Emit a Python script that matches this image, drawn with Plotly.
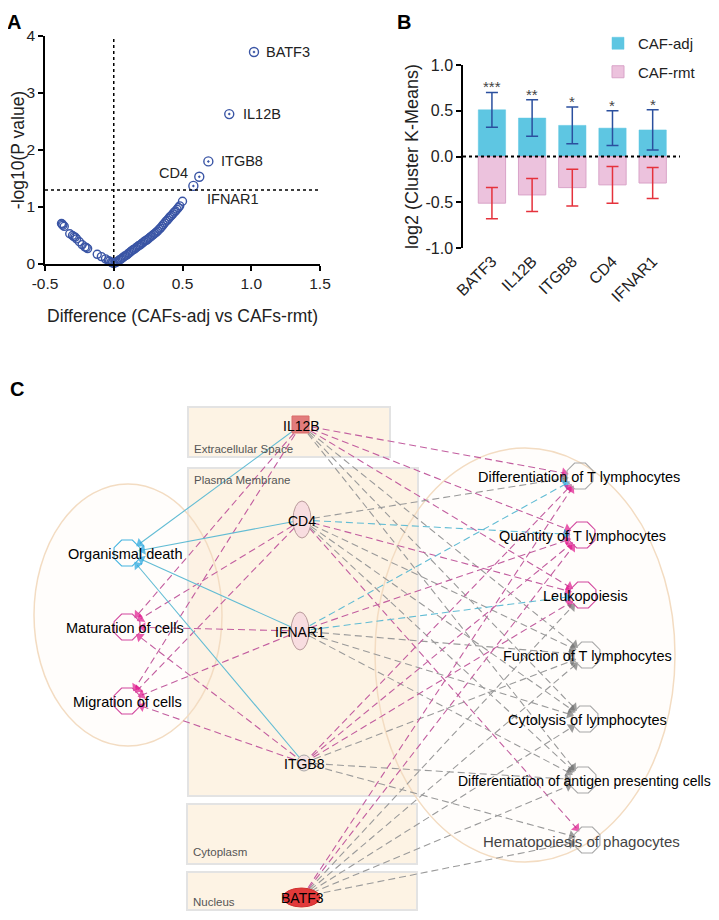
import math
import plotly.graph_objects as go

FONT = "Liberation Sans, Arial, sans-serif"

# ---------------- Panel A data (volcano) ----------------
volcano_diff = [-0.38, -0.375, -0.37, -0.36, -0.32, -0.30, -0.29, -0.28, -0.27, -0.25,
                -0.23, -0.21, -0.20, -0.19, -0.12, -0.09, -0.06, -0.04, -0.03, -0.02,
                -0.01, 0.00, 0.01, 0.02, 0.03, 0.04, 0.05, 0.06, 0.07, 0.08, 0.09,
                0.10, 0.11, 0.12, 0.13, 0.14, 0.15, 0.16, 0.17, 0.18, 0.19, 0.20,
                0.21, 0.22, 0.23, 0.24, 0.25, 0.26, 0.27, 0.28, 0.29, 0.30, 0.31,
                0.32, 0.33, 0.34, 0.35, 0.36, 0.37, 0.38, 0.39, 0.40, 0.41, 0.42,
                0.43, 0.44, 0.45, 0.46, 0.47, 0.48, 0.50]
volcano_logp = [0.71, 0.70, 0.68, 0.66, 0.53, 0.50, 0.48, 0.47, 0.44, 0.39,
                0.34, 0.30, 0.29, 0.27, 0.17, 0.13, 0.09, 0.06, 0.05, 0.03,
                0.02, 0.01, 0.02, 0.03, 0.05, 0.07, 0.08, 0.10, 0.12, 0.14, 0.15,
                0.17, 0.19, 0.21, 0.23, 0.25, 0.26, 0.28, 0.30, 0.32, 0.33, 0.35,
                0.37, 0.39, 0.41, 0.42, 0.44, 0.46, 0.48, 0.50, 0.52, 0.54, 0.56,
                0.58, 0.61, 0.63, 0.66, 0.69, 0.72, 0.75, 0.77, 0.80, 0.83, 0.85,
                0.88, 0.91, 0.93, 0.96, 0.99, 1.02, 1.10]
label_genes = ["BATF3", "IL12B", "ITGB8", "CD4", "IFNAR1"]
label_diff = [1.02, 0.84, 0.688, 0.622, 0.579]
label_logp = [3.72, 2.63, 1.80, 1.53, 1.37]
p_threshold = 1.3

# ---------------- Panel B data (bars) ----------------
genes_b = ["BATF3", "IL12B", "ITGB8", "CD4", "IFNAR1"]
caf_adj = [0.51, 0.42, 0.34, 0.31, 0.29]
caf_adj_err = [0.19, 0.20, 0.20, 0.19, 0.22]
caf_rmt = [-0.51, -0.42, -0.34, -0.31, -0.29]
caf_rmt_err = [0.17, 0.18, 0.20, 0.20, 0.17]
stars = ["***", "**", "*", "*", "*"]

# ---------------- Panel C data (network) ----------------
src_names = ["IL12B", "CD4", "IFNAR1", "ITGB8", "BATF3"]
src_x = [301, 302, 300, 304, 302]
src_y = [425, 520, 631, 763, 897]

fn_keys = ["OD", "MAT", "MIG", "DT", "QT", "LEU", "FT", "CYT", "DAPC", "HEM"]
fn_labels = ["Organismal death", "Maturation of cells", "Migration of cells",
             "Differentiation of T lymphocytes", "Quantity of T lymphocytes",
             "Leukopoiesis", "Function of T lymphocytes", "Cytolysis of lymphocytes",
             "Differentiation of antigen presenting cells", "Hematopoiesis of phagocytes"]
fn_x = [127, 127, 127, 580, 582, 583, 587, 585, 583, 587]
fn_y = [553, 627, 701, 476, 535, 595, 655, 719, 780, 840]
fn_label_x = [125, 125, 127, 579, 582, 585, 587, 587, 584, 581]
fn_kind = ["cyan", "mag", "mag", "grey", "mag", "mag", "grey", "grey", "grey", "grey"]

edges = [
    ("IL12B", "OD", "cyan", "solid"), ("IL12B", "MAT", "mag", "dash"),
    ("IL12B", "MIG", "mag", "dash"), ("IL12B", "DT", "mag", "dash"),
    ("IL12B", "QT", "mag", "dash"), ("IL12B", "LEU", "mag", "dash"),
    ("IL12B", "FT", "grey", "dash"), ("IL12B", "CYT", "grey", "dash"),
    ("IL12B", "DAPC", "grey", "dash"),
    ("CD4", "OD", "cyan", "solid"), ("CD4", "MAT", "mag", "dash"),
    ("CD4", "MIG", "mag", "dash"), ("CD4", "DT", "grey", "dash"),
    ("CD4", "QT", "cyan", "dash"), ("CD4", "LEU", "mag", "dash"),
    ("CD4", "FT", "grey", "dash"), ("CD4", "CYT", "grey", "dash"),
    ("CD4", "DAPC", "grey", "dash"), ("CD4", "HEM", "mag", "dash"),
    ("IFNAR1", "OD", "cyan", "solid"), ("IFNAR1", "MAT", "mag", "dash"),
    ("IFNAR1", "MIG", "mag", "dash"), ("IFNAR1", "DT", "cyan", "dash"),
    ("IFNAR1", "QT", "mag", "dash"), ("IFNAR1", "LEU", "cyan", "dash"),
    ("IFNAR1", "FT", "grey", "dash"), ("IFNAR1", "CYT", "grey", "dash"),
    ("IFNAR1", "DAPC", "grey", "dash"),
    ("ITGB8", "OD", "cyan", "solid"), ("ITGB8", "MAT", "mag", "dash"),
    ("ITGB8", "MIG", "mag", "dash"), ("ITGB8", "DT", "mag", "dash"),
    ("ITGB8", "QT", "mag", "dash"), ("ITGB8", "LEU", "mag", "dash"),
    ("ITGB8", "FT", "grey", "dash"), ("ITGB8", "DAPC", "grey", "dash"),
    ("ITGB8", "HEM", "grey", "dash"),
    ("BATF3", "DT", "mag", "dash"), ("BATF3", "QT", "mag", "dash"),
    ("BATF3", "LEU", "grey", "dash"), ("BATF3", "FT", "grey", "dash"),
    ("BATF3", "CYT", "grey", "dash"), ("BATF3", "DAPC", "grey", "dash"),
    ("BATF3", "HEM", "grey", "dash"),
]

compartments = ["Extracellular Space", "Plasma Membrane", "Cytoplasm", "Nucleus"]
comp_x0 = [188, 188, 187, 187]
comp_x1 = [390, 418, 417, 417]
comp_y0 = [407, 468, 804, 872]
comp_y1 = [457, 796, 864, 910]
comp_label_y = [449, 480, 852, 902]

line_col = {"mag": "#c25d9f", "grey": "#9a9a9a", "cyan": "#62bcd4"}
arrow_col = {"mag": "#e0158b", "grey": "#707070", "cyan": "#1fa2dd"}
oct_col = {"mag": "#d2479e", "grey": "#a8a8a8", "cyan": "#45b4e0"}

PAGE_W, PAGE_H = 719, 920
OFF = 8                      # default body margin of the html page
W, H = PAGE_W - 2 * OFF, PAGE_H - 2 * OFF   # figure fits in the window without overflow

fig = go.Figure()

# ---------- Panel A traces ----------
fig.add_trace(go.Scatter(
    x=volcano_diff, y=volcano_logp, mode="markers", xaxis="x", yaxis="y",
    marker=dict(symbol="circle-open", size=8, color="#3a55a5", line=dict(width=1.4)),
    showlegend=False, cliponaxis=False))
fig.add_trace(go.Scatter(
    x=label_diff, y=label_logp, mode="markers", xaxis="x", yaxis="y",
    marker=dict(symbol="circle-open-dot", size=9, color="#3a55a5", line=dict(width=1.4)),
    showlegend=False, cliponaxis=False))

# ---------- Panel B traces ----------
fig.add_trace(go.Bar(
    x=genes_b, y=caf_adj, name="CAF-adj", xaxis="x2", yaxis="y2", width=0.68,
    legendgroup="adj",
    marker=dict(color="#5ec6e2", line=dict(color="#5ec6e2", width=0.5)),
    error_y=dict(type="data", array=caf_adj_err, color="#2b4f9e", thickness=1.5, width=6)))
fig.add_trace(go.Bar(
    x=genes_b, y=caf_rmt, name="CAF-rmt", xaxis="x2", yaxis="y2", width=0.68,
    legendgroup="rmt",
    marker=dict(color="#ecc2dd", line=dict(color="#d9a3c8", width=1)),
    error_y=dict(type="data", array=caf_rmt_err, color="#e5323c", thickness=1.5, width=6)))

# ---------- Panel C traces ----------
src_pos = {n: (x, y) for n, x, y in zip(src_names, src_x, src_y)}
fn_pos = {k: (x, y) for k, x, y in zip(fn_keys, fn_x, fn_y)}
for s, t, kind, style in edges:
    sx, sy = src_pos[s]
    tx, ty = fn_pos[t]
    d = math.hypot(sx - tx, sy - ty)
    ex = tx + (sx - tx) / d * 16
    ey = ty + (sy - ty) / d * 16
    fig.add_trace(go.Scatter(
        x=[sx, ex], y=[sy, ey], xaxis="x3", yaxis="y3", mode="lines+markers",
        line=dict(color=line_col[kind], width=1.1,
                  dash=("solid" if style == "solid" else "7px,4px")),
        marker=dict(symbol=["circle", "triangle-up"], size=[0, 9],
                    color=arrow_col[kind], angleref="previous", line=dict(width=0)),
        showlegend=False, hoverinfo="skip", cliponaxis=False))

fig.add_trace(go.Scatter(
    x=fn_x, y=fn_y, xaxis="x3", yaxis="y3", mode="markers",
    marker=dict(symbol="octagon-open", size=28, color=[oct_col[k] for k in fn_kind],
                line=dict(width=1.1)),
    showlegend=False, hoverinfo="skip"))

shapes = []
annotations = []

# Panel A reference lines
shapes.append(dict(type="line", xref="x", yref="y", x0=-0.5, x1=1.5, y0=p_threshold, y1=p_threshold,
                   line=dict(color="black", width=1.5, dash="dot")))
shapes.append(dict(type="line", xref="x", yref="y", x0=0, x1=0, y0=0, y1=4,
                   line=dict(color="black", width=1.5, dash="dot")))

# Panel A labels
lab_shift = {"BATF3": (10, 0, "left"), "IL12B": (12, 0, "left"), "ITGB8": (11, 0, "left"),
             "CD4": (-9, 4, "right"), "IFNAR1": (12, -13, "left")}
for g, x, y in zip(label_genes, label_diff, label_logp):
    xs, ys, anc = lab_shift[g]
    annotations.append(dict(x=x, y=y, xref="x", yref="y", text=g, showarrow=False,
                            xanchor=anc, yanchor="middle", xshift=xs, yshift=ys,
                            font=dict(family=FONT, size=14.5, color="#222")))

# Panel B zero line and stars
shapes.append(dict(type="line", xref="x2 domain", yref="y2", x0=0, x1=1, y0=0, y1=0,
                   line=dict(color="black", width=2, dash="dot")))
for g, v, e, s in zip(genes_b, caf_adj, caf_adj_err, stars):
    annotations.append(dict(x=g, y=v + e, xref="x2", yref="y2", text=s, showarrow=False,
                            yanchor="bottom", yshift=-5,
                            font=dict(family=FONT, size=15, color="#444")))

# Panel C compartments
for name, x0, x1, y0, y1, ly in zip(compartments, comp_x0, comp_x1, comp_y0, comp_y1, comp_label_y):
    shapes.append(dict(type="rect", xref="x3", yref="y3", x0=x0, x1=x1, y0=y0, y1=y1,
                       fillcolor="#fdf3e4", line=dict(color="#e3e3e3", width=2), layer="below"))
    annotations.append(dict(x=x0 + 4, y=ly, xref="x3", yref="y3", text=name, showarrow=False,
                            xanchor="left", yanchor="middle",
                            font=dict(family=FONT, size=11.5, color="#555")))
# function-group ellipses
shapes.append(dict(type="circle", xref="x3", yref="y3", x0=34, x1=222, y0=484, y1=746,
                   line=dict(color="#f3dcc2", width=1.5), fillcolor="rgba(253,243,228,0.15)",
                   layer="below"))
shapes.append(dict(type="circle", xref="x3", yref="y3", x0=375, x1=675, y0=448, y1=862,
                   line=dict(color="#f3dcc2", width=1.5), fillcolor="rgba(253,243,228,0.15)",
                   layer="below"))

# source node glyphs
shapes.append(dict(type="rect", xref="x3", yref="y3", x0=src_x[0] - 9, x1=src_x[0] + 8,
                   y0=src_y[0] - 9, y1=src_y[0] + 8, fillcolor="#e27c7c",
                   line=dict(color="#d96a6a", width=1)))
shapes.append(dict(type="circle", xref="x3", yref="y3", x0=src_x[1] - 9, x1=src_x[1] + 9,
                   y0=src_y[1] - 19, y1=src_y[1] + 18, fillcolor="#f8dde0",
                   line=dict(color="#b89a9a", width=1)))
shapes.append(dict(type="circle", xref="x3", yref="y3", x0=src_x[2] - 9, x1=src_x[2] + 9,
                   y0=src_y[2] - 19, y1=src_y[2] + 19, fillcolor="#f8dde0",
                   line=dict(color="#b89a9a", width=1)))
shapes.append(dict(type="circle", xref="x3", yref="y3", x0=src_x[3] - 7, x1=src_x[3] + 7,
                   y0=src_y[3] - 8, y1=src_y[3] + 8, fillcolor="#f6e3e3",
                   line=dict(color="#a9a9a9", width=1)))
shapes.append(dict(type="circle", xref="x3", yref="y3", x0=src_x[4] - 19, x1=src_x[4] + 18,
                   y0=src_y[4] - 9, y1=src_y[4] + 10, fillcolor="#e23a3a",
                   line=dict(color="#d03030", width=1)))

for n, x, y in zip(src_names, src_x, src_y):
    annotations.append(dict(x=x, y=y + 1, xref="x3", yref="y3", text=n, showarrow=False,
                            font=dict(family=FONT, size=14, color="black")))
for lab, x, y, k in zip(fn_labels, fn_label_x, fn_y, fn_keys):
    big = (k == "HEM")
    size = 15 if big else (14 if k == "DAPC" else 14.5)
    annotations.append(dict(x=x, y=y + 1, xref="x3", yref="y3", text=lab, showarrow=False,
                            font=dict(family=FONT, size=size,
                                      color="#444" if big else "black")))

# panel letters
for letter, x, y in [("A", 14, 8.5), ("B", 404, 8.5), ("C", 17, 376)]:
    annotations.append(dict(x=x, y=y, xref="x3", yref="y3", text="<b>%s</b>" % letter,
                            showarrow=False, yanchor="top",
                            font=dict(family=FONT, size=20, color="black")))

axis_common = dict(showgrid=False, zeroline=False, showline=True, linecolor="black",
                   linewidth=1.5, ticks="outside", ticklen=5, tickwidth=1.5, tickcolor="black",
                   automargin=False)


def dom_x(a, b):
    return [(a - OFF) / W, (b - OFF) / W]


def dom_y(top, bottom):
    return [1 - (bottom - OFF) / H, 1 - (top - OFF) / H]


fig.update_layout(
    width=W, height=H, autosize=False,
    margin=dict(l=0, r=0, t=0, b=0, pad=0, autoexpand=False),
    paper_bgcolor="white", plot_bgcolor="rgba(0,0,0,0)",
    font=dict(family=FONT, color="black"),
    barmode="overlay", hovermode=False,
    xaxis=dict(domain=dom_x(45, 320), range=[-0.5, 1.5], anchor="y",
               tickvals=[-0.5, 0, 0.5, 1.0, 1.5], ticktext=["-0.5", "0.0", "0.5", "1.0", "1.5"],
               tickfont=dict(family=FONT, size=15.5, color="#222"),
               title=dict(text="Difference (CAFs-adj vs CAFs-rmt)", standoff=18,
                          font=dict(family=FONT, size=17.5, color="#222")),
               **axis_common),
    yaxis=dict(domain=dom_y(36, 264), range=[0, 4], anchor="x",
               tickvals=[0, 1, 2, 3, 4],
               tickfont=dict(family=FONT, size=15.5, color="#222"),
               title=dict(text="-log10(P value)", standoff=5,
                          font=dict(family=FONT, size=17.5, color="#222")),
               **axis_common),
    xaxis2=dict(domain=dom_x(463, 680), range=[-0.72, 4.68], anchor="y2",
                showgrid=False, zeroline=False, showline=False, ticks="", automargin=False,
                tickangle=-45, tickfont=dict(family=FONT, size=16, color="#222")),
    yaxis2=dict(domain=dom_y(65, 248), range=[-1, 1], anchor="x2",
                tickvals=[-1, -0.5, 0, 0.5, 1], ticktext=["-1.0", "-0.5", "0.0", "0.5", "1.0"],
                tickfont=dict(family=FONT, size=16, color="#222"),
                title=dict(text="log2 (Cluster K-Means)", standoff=2,
                           font=dict(family=FONT, size=18, color="#222")),
                **axis_common),
    xaxis3=dict(domain=[0, 1], range=[OFF, W + OFF], visible=False, fixedrange=True,
                anchor="y3", automargin=False),
    yaxis3=dict(domain=[0, 1], range=[H + OFF, OFF], visible=False, fixedrange=True,
                anchor="x3", automargin=False),
    legend=dict(x=(598 - OFF) / W, y=1 - (27 - OFF) / H, xanchor="left", yanchor="top",
                font=dict(family=FONT, size=15, color="#222"), bgcolor="rgba(0,0,0,0)",
                tracegroupgap=6, itemwidth=30),
    shapes=shapes, annotations=annotations,
)

fig.write_html("out.html")
